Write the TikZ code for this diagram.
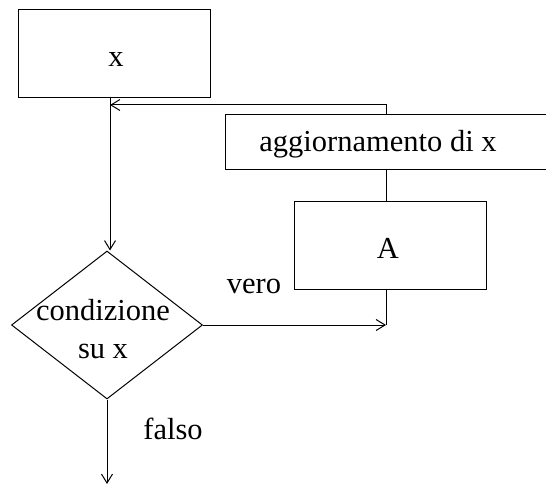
\documentclass[tikz,border=0pt]{standalone}
\usepackage{fontspec}
\setmainfont{Liberation Serif}
\usetikzlibrary{shapes.geometric,arrows.meta}
\begin{document}
\begin{tikzpicture}[x=1pt,y=-1pt,line width=1pt,
  every node/.style={font=\fontsize{30.5}{38}\selectfont},
  box/.style={draw,rectangle,inner sep=0pt,anchor=north west},
  txt/.style={inner sep=0pt},
  cond/.style={draw,diamond,inner sep=0pt,minimum width=191pt,minimum height=148pt},
  flow/.style={-{Straight Barb[length=9pt,width=11pt,line width=1pt]}},
  link/.style={-}]
  \useasboundingbox (0,0) rectangle (546,484);
  % process boxes
  \node[box,minimum width=192pt,minimum height=88pt] (xbox) at (18,9) {};
  \node[txt] (xlbl) at (116,60) {x};
  \node[box,minimum width=340pt,minimum height=55pt] (agg) at (225,114) {};
  \node[txt] (agglbl) at (378,144) {aggiornamento di x};
  \node[box,minimum width=192pt,minimum height=88pt] (abox) at (294,201) {};
  \node[txt] (albl) at (388,248) {A};
  % decision
  \node[cond] (test) at (107,325) {};
  \node[txt,align=center] (testlbl) at (103,329) {condizione\\su x};
  \node[txt] (vero) at (254,286) {vero};
  \node[txt] (falso) at (173,429) {falso};
  % junction points of the loop
  \coordinate (xout) at (110,97);
  \coordinate (xin) at (110,105);
  \coordinate (aggtop) at (386,114);
  \coordinate (corner) at (386,105);
  \coordinate (aggbot) at (386,169);
  \coordinate (atop) at (386,201);
  \coordinate (abot) at (386,289);
  \coordinate (exit) at (105,484);
  % connectors
  \draw[flow] (xout) -- (xout |- test.north);
  \draw[flow] (aggtop) -- (corner) -- (xin);
  \draw[link] (aggbot) -- (atop);
  \draw[link] (abot) -- (abot |- test.east);
  \draw[flow] (test.east) -- (abot |- test.east);
  \draw[flow] (test.south) -- (test.south |- exit);
\end{tikzpicture}
\end{document}
